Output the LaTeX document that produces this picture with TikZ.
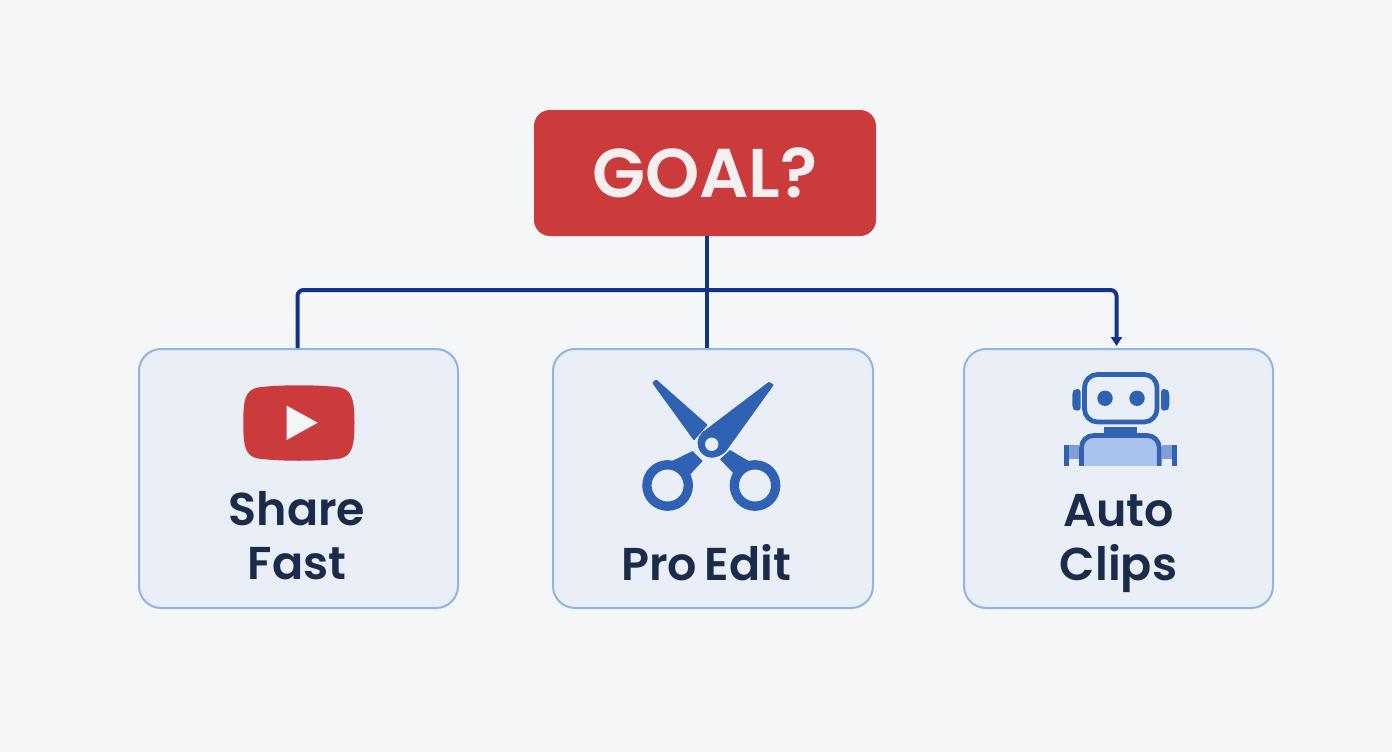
\documentclass[tikz,border=0pt]{standalone}
\usepackage{fontspec}
\setmainfont{Poppins SemiBold}[WordSpace=0.7]
\usetikzlibrary{arrows.meta}
\definecolor{bg}{HTML}{F5F6F8}
\definecolor{goalred}{HTML}{CB3B3B}
\definecolor{goaltext}{HTML}{F6EFF1}
\definecolor{boxfill}{HTML}{E9EEF7}
\definecolor{boxline}{HTML}{8FB6E1}
\definecolor{wire}{HTML}{0F3490}
\definecolor{icon}{HTML}{2F62B3}
\definecolor{iconlight}{HTML}{A9C4EC}
\definecolor{iconmid}{HTML}{7F9FD6}
\definecolor{ink}{HTML}{1B2B4B}
\tikzset{
  goalbox/.style={fill=goalred,rounded corners=16pt,minimum width=342pt,minimum height=126pt,inner sep=0pt,text=goaltext,font=\fontsize{69}{69}\selectfont},
  choice/.style={fill=boxfill,draw=boxline,line width=2pt,rounded corners=22pt,minimum height=259pt,inner sep=0pt},
  label/.style={text=ink,align=center,inner sep=0pt,font=\fontsize{46}{54}\selectfont},
  wireline/.style={draw=wire,line width=4pt,rounded corners=6pt},
  blade/.style={fill=icon,draw=icon,line width=2pt,line join=round},
}
\begin{document}
\begin{tikzpicture}[x=1pt,y=-1pt]
\useasboundingbox (0,0) rectangle (1392,752);
\fill[bg] (0,0) rectangle (1392,752);
\node[goalbox] (goal) at (705,173) {\raisebox{-3pt}{GOAL?}};
\node[choice,minimum width=319pt] (share) at (298.5,478.5) {};
\node[choice,minimum width=320pt] (pro) at (713,478.5) {};
\node[choice,minimum width=309pt] (auto) at (1118.5,478.5) {};
\coordinate (junction) at (707,290);
\draw[wireline] (goal.south -| junction) -- (junction) -- (junction |- pro.north);
\draw[wireline] (junction) -| ([xshift=-1pt]share.north);
\draw[wireline,shorten >=2pt,-{Triangle[length=9pt,width=11pt]}] (junction) -| ([xshift=-2pt]auto.north);
% YouTube icon
\fill[goalred] (243.3,423) .. controls (243.3,400) and (245,390) .. (258,387.5)
  .. controls (280,384.5) and (318,384.5) .. (340,387.5)
  .. controls (352,390) and (354.5,400) .. (354.5,423)
  .. controls (354.5,446) and (352,456) .. (340,458.5)
  .. controls (318,461.5) and (280,461.5) .. (258,458.5)
  .. controls (245,456) and (243.3,446) .. (243.3,423) -- cycle;
\fill[bg] (286.7,405.7) -- (317.7,422.7) -- (286.7,440) -- cycle;
% Scissors
\path[blade] (653.5,383) -- (656,380.5) -- (706.3,425) -- (694,439) -- cycle;
\path[blade] (769,383) -- (772.5,385) -- (725,451) .. controls (717,458) and (707,459) .. (701,451) .. controls (697,445) and (698,438) .. (703,433) -- cycle;
\fill[boxfill] (711.7,444.3) circle (6.7);
\fill[icon] (692.7,451) -- (702.7,461) -- (686,479) -- (670,462) -- cycle;
\fill[icon] (730,450) -- (720,459.3) -- (738,478) -- (752,463) -- cycle;
\draw[icon,fill=boxfill,line width=9.3pt] (667.6,485.5) circle (20.7);
\draw[icon,fill=boxfill,line width=9.3pt] (755,485.5) circle (20.7);
% Robot
\fill[icon,rounded corners=3pt] (1080.7,389) -- (1075,389) -- (1072.3,392) -- (1072.3,408) -- (1075,410.7) -- (1080.7,410.7) -- cycle;
\fill[icon,rounded corners=3pt] (1161,389) -- (1166.5,389) -- (1169.3,392) -- (1169.3,408) -- (1166.5,410.7) -- (1161,410.7) -- cycle;
\draw[icon,line width=4.7pt,rounded corners=13pt,fill=boxfill] (1084.5,374.5) rectangle (1157,422);
\fill[icon] (1105,398.3) circle (7.7);
\fill[icon] (1137,398.3) circle (7.7);
\fill[icon] (1104,426.7) rectangle (1137.3,434);
\fill[iconmid] (1064.3,445) rectangle (1079,459);
\fill[icon] (1064.3,445) rectangle (1069,465.5);
\fill[iconmid] (1162,445) rectangle (1176.7,459);
\fill[icon] (1172,445) rectangle (1176.7,465.5);
\fill[iconlight,rounded corners=12pt] (1081.5,470) -- (1081.5,436) -- (1159.2,436) -- (1159.2,470) -- cycle;
\fill[boxfill] (1060,465.5) rectangle (1180,472);
\draw[icon,line width=4.7pt,rounded corners=12pt] (1081.5,470) -- (1081.5,435.5) -- (1159.2,435.5) -- (1159.2,470);
\fill[boxfill] (1060,465.5) rectangle (1180,472);
% Labels
\node[label] (sharelabel) at (297,536) {Share\\Fast};
\node[label] (prolabel) at (706,563) {Pro Edit};
\node[label] (autolabel) at (1118.5,543) {Auto\\Clips};
\end{tikzpicture}
\end{document}
